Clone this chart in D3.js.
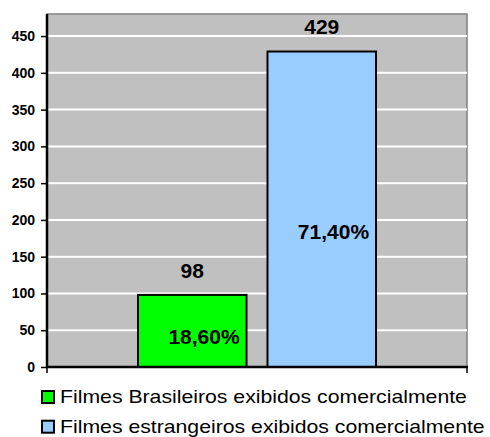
<!DOCTYPE html>
<html><head><meta charset="utf-8">
<script src="https://cdn.jsdelivr.net/npm/d3@7"></script>
<style>body{margin:0;background:#fff}svg{display:block}</style>
</head><body>
<script>
const seriesNames = ["Filmes Brasileiros exibidos comercialmente","Filmes estrangeiros exibidos comercialmente"];
const seriesValues = [98, 429];
const seriesPercents = ["18,60%", "71,40%"];
const seriesColors = ["#00ff00", "#99ccff"];
const yTicks = [0,50,100,150,200,250,300,350,400,450];

(function(){
const W=490,H=437;
const pL=47,pR=467,pT=14,pB=367;
const svg=d3.select("body").append("svg").attr("width",W).attr("height",H);
const font="Liberation Sans, Arial, sans-serif";

const y=d3.scaleLinear().domain([0,480]).range([pB,pT]);
const x=d3.scaleBand().domain(seriesNames).range([138,376]).paddingInner(0.162);

svg.append("rect").attr("x",pL).attr("y",pT).attr("width",pR-pL).attr("height",pB-pT)
  .attr("fill","#c0c0c0").attr("stroke","#808080").attr("stroke-width",1.5);

svg.append("g").selectAll("line").data(yTicks.filter(d=>d>0)).join("line")
  .attr("x1",pL).attr("x2",pR).attr("y1",d=>y(d)).attr("y2",d=>y(d))
  .attr("stroke","#fff").attr("stroke-width",2);

svg.append("g").selectAll("rect").data(seriesValues).join("rect")
  .attr("x",(d,i)=>x(seriesNames[i])).attr("width",x.bandwidth())
  .attr("y",d=>y(d)).attr("height",d=>pB-y(d))
  .attr("fill",(d,i)=>seriesColors[i]).attr("stroke","#000").attr("stroke-width",2);

const ax=svg.append("g").attr("transform",`translate(${pL},0)`)
  .call(d3.axisLeft(y).tickValues(yTicks).tickSize(6).tickPadding(6));
ax.select(".domain").remove();
ax.selectAll("line").attr("stroke","#000").attr("stroke-width",1.5);
ax.selectAll("text").attr("font-family",font).attr("font-weight","bold").attr("font-size","14px").attr("fill","#000");

svg.append("line").attr("x1",pL).attr("x2",pL).attr("y1",pT).attr("y2",pB+1).attr("stroke","#000").attr("stroke-width",2.5);
svg.append("line").attr("x1",pL-1).attr("x2",pR+1).attr("y1",pB).attr("y2",pB).attr("stroke","#000").attr("stroke-width",2.5);
svg.append("g").selectAll("line").data([pL,pR]).join("line").attr("x1",d=>d).attr("x2",d=>d)
  .attr("y1",pB).attr("y2",pB+6).attr("stroke","#000").attr("stroke-width",1.5);

svg.append("g").selectAll("text").data(seriesValues).join("text")
  .attr("x",(d,i)=>x(seriesNames[i])+x.bandwidth()/2).attr("y",d=>y(d)-17.3)
  .attr("text-anchor","middle").attr("font-family",font).attr("font-weight","bold").attr("font-size","21px")
  .text(d=>d);

svg.append("g").selectAll("text").data(seriesValues).join("text")
  .attr("x",(d,i)=>x(seriesNames[i])+66).attr("y",d=>y(d*0.43)+7.8)
  .attr("text-anchor","middle").attr("font-family",font).attr("font-weight","bold").attr("font-size","21px")
  .text((d,i)=>seriesPercents[i]);

const lg=svg.append("g").selectAll("g").data(seriesNames).join("g")
  .attr("transform",(d,i)=>`translate(42,${391+i*29.7})`);
lg.append("rect").attr("width",12).attr("height",12).attr("fill",(d,i)=>seriesColors[i]).attr("stroke","#000").attr("stroke-width",2);
lg.append("text").attr("transform","translate(18,12.3) scale(1.18,1)").attr("font-family",font).attr("font-size","18px").attr("fill","#000").text(d=>d);
})();
</script>
</body></html>
